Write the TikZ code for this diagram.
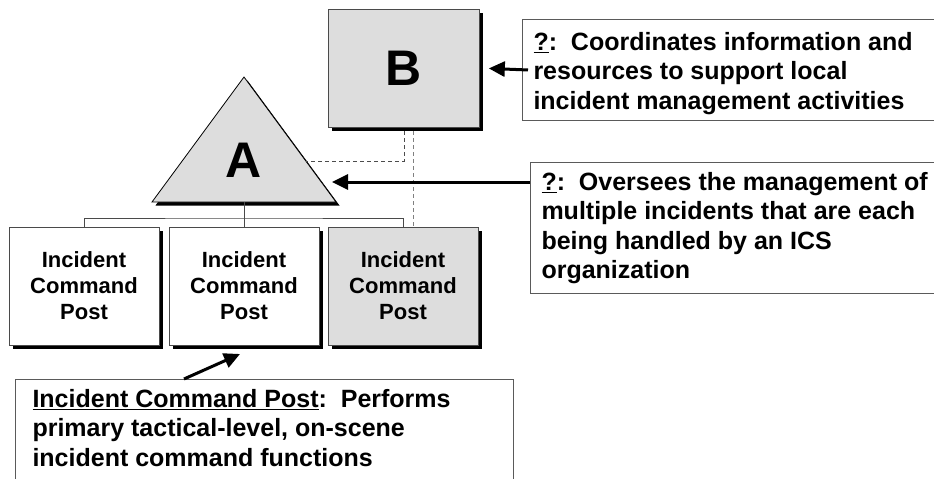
\documentclass[tikz,border=0pt]{standalone}
\usepackage{fontspec}
\setmainfont{Liberation Sans}
\usetikzlibrary{arrows.meta,shadows}
\definecolor{fillgray}{HTML}{DDDDDD}
\definecolor{edgegray}{HTML}{4A4A4A}
\definecolor{boxedge}{HTML}{5A5A5A}
\begin{document}
\begin{tikzpicture}[x=1pt,y=-1pt,
  blackshadow/.style={general shadow={fill=black, shadow xshift=3.5pt, shadow yshift=-3.5pt}},
  icp/.style={draw=edgegray, line width=0.8pt, minimum width=150pt, minimum height=118pt,
    align=center, inner sep=0pt, blackshadow, font=\fontsize{22}{26}\bfseries\selectfont},
  bigletter/.style={font=\fontsize{50}{50}\bfseries\selectfont, inner sep=0pt},
  tbox/.style={draw=boxedge, line width=1pt, fill=white, anchor=north west,
    font=\fontsize{25}{29.2}\bfseries\selectfont},
  arr/.style={-{Triangle[length=16pt,width=15pt]}, line width=3pt},
  tree/.style={draw=edgegray, line width=0.8pt},
  dashA/.style={draw=black!70, line width=0.8pt, dash pattern=on 4pt off 3pt},
  dashB/.style={draw=gray, line width=0.8pt, dash pattern=on 4pt off 3pt}]
\useasboundingbox (0,0) rectangle (934,479);

% B box
\node (B) [draw=edgegray, fill=fillgray, line width=0.8pt, minimum width=151pt,
  minimum height=118pt, anchor=north west, inner sep=0pt, blackshadow] at (328,9) {};
\node (Blabel) [bigletter] at (B.center) {B};

% A triangle
\coordinate (Atop) at (244,77);
\coordinate (Aright) at (336,202);
\coordinate (Aleft) at (152,202);
\coordinate (Abase) at (244,202);
\filldraw[fill=fillgray, draw=black, line width=0.8pt, blackshadow]
  (Atop) -- (Aright) -- (Aleft) -- cycle;
\node (A) [bigletter] at (244,160) {A};
\coordinate (Aedge) at (306,161);
\coordinate (Atip) at (332,182);

% Incident Command Posts
\node (P1) [icp, fill=white] at (84,286) {Incident\\Command\\Post};
\node (P2) [icp, fill=white] at (244,286) {Incident\\Command\\Post};
\node (P3) [icp, fill=fillgray] at (403,286) {Incident\\Command\\Post};

% tree connectors
\draw[tree] (Abase) -- ++(0,16) coordinate (J);
\draw[tree] (P1.north) |- (J) -| (P3.north);
\draw[tree] (J) -- (P2.north);

% dashed links
\draw[dashA] ([yshift=-3.5pt]B.south) |- (Aedge);
\draw[dashB] ([xshift=9pt,yshift=-3.5pt]B.south) -- ([xshift=9pt]B.south |- P3.north);

% text boxes
\node (T1) [tbox, inner xsep=11pt, inner ysep=13pt] at (522,19)
  {\parbox[t][75pt][t]{400pt}{\raggedright\underline{?}:\ \ Coordinates information and\\
  resources to support local\\ incident management activities}};
\node (T2) [tbox, inner xsep=11pt, inner ysep=10pt] at (530,162)
  {\parbox[t][111pt][t]{400pt}{\raggedright\underline{?}:\ \ Oversees the management of\\
  multiple incidents that are each\\ being handled by an ICS\\ organization}};
\node (T3) [tbox, inner xsep=17pt, inner ysep=10pt] at (15,379)
  {\parbox[t][110pt][t]{464pt}{\raggedright\underline{Incident Command Post}:\ \ Performs\\
  primary tactical-level, on-scene\\ incident command functions}};

% arrows
\draw[arr] ([xshift=6pt]T1.west) -- ([xshift=9pt]B.east);
\draw[arr] (T2.north west |- Atip) -- (Atip);
\coordinate (P2tip) at (240,354);
\draw[arr] ([xshift=169pt]T3.north west) -- (P2tip);
\end{tikzpicture}
\end{document}
